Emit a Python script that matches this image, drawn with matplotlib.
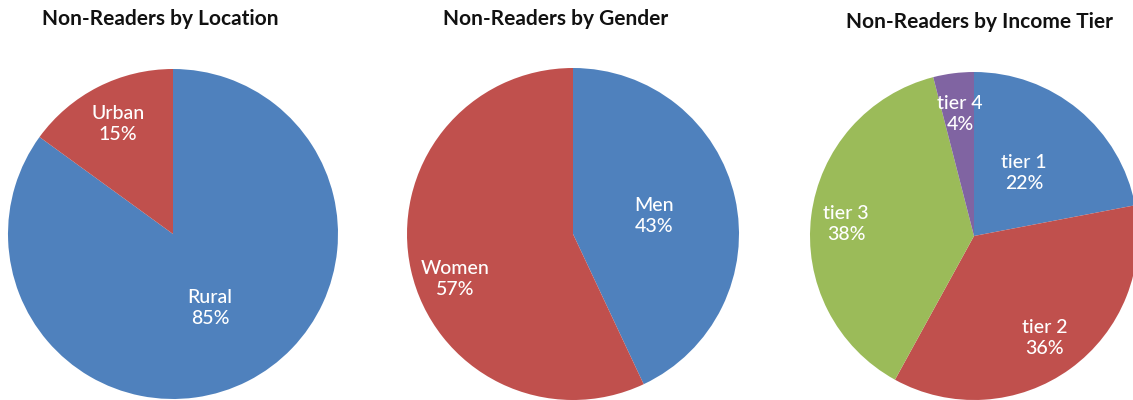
import matplotlib
matplotlib.use("Agg")
import matplotlib.pyplot as plt

# Survey breakdowns of non-readers
location_labels = ["Rural", "Urban"]
location_values = [85, 15]

gender_labels = ["Men", "Women"]
gender_values = [43, 57]

income_labels = ["tier 1", "tier 2", "tier 3", "tier 4"]
income_values = [22, 36, 38, 4]

titles = ["Non-Readers by Location", "Non-Readers by Gender", "Non-Readers by Income Tier"]

BLUE, RED, GREEN, PURPLE = "#4F81BD", "#C0504D", "#9BBB59", "#8064A2"

W, H = 1133, 400
fig = plt.figure(figsize=(W / 100, H / 100), dpi=100)
ax = fig.add_axes([0, 0, 1, 1])

charts = [
    dict(values=location_values, labels=location_labels, colors=[BLUE, RED],
         center=(173, H - 234), radius=165, title_xy=(160, H - 19),
         label_offsets=[(37, -74), (-55, 110)]),
    dict(values=gender_values, labels=gender_labels, colors=[BLUE, RED],
         center=(573, H - 234), radius=166, title_xy=(556, H - 19),
         label_offsets=[(81, 18), (-118, -45)]),
    dict(values=income_values, labels=income_labels, colors=[BLUE, RED, GREEN, PURPLE],
         center=(974, H - 236), radius=164, title_xy=(979, H - 22),
         label_offsets=[(50, 63), (71, -102), (-128, 12), (-14, 122)]),
]

for chart, title in zip(charts, titles):
    ax.pie(chart["values"], colors=chart["colors"], center=chart["center"],
           radius=chart["radius"], startangle=90, counterclock=False,
           wedgeprops=dict(linewidth=0), frame=True)
    cx, cy = chart["center"]
    total = sum(chart["values"])
    for name, val, (dx, dy) in zip(chart["labels"], chart["values"], chart["label_offsets"]):
        ax.text(cx + dx, cy + dy, f"{name}\n{round(100 * val / total)}%",
                ha="center", va="center", color="white", fontsize=14,
                family="Lato", fontweight="medium", linespacing=1.3)
    tx, ty = chart["title_xy"]
    ax.text(tx, ty, title, ha="center", va="center", fontsize=15,
            family="Lato", fontweight="bold", color="#111111")

ax.set_xlim(0, W)
ax.set_ylim(0, H)
ax.set_aspect("equal")
ax.axis("off")

fig.savefig("out.png", dpi=100, facecolor="white")
